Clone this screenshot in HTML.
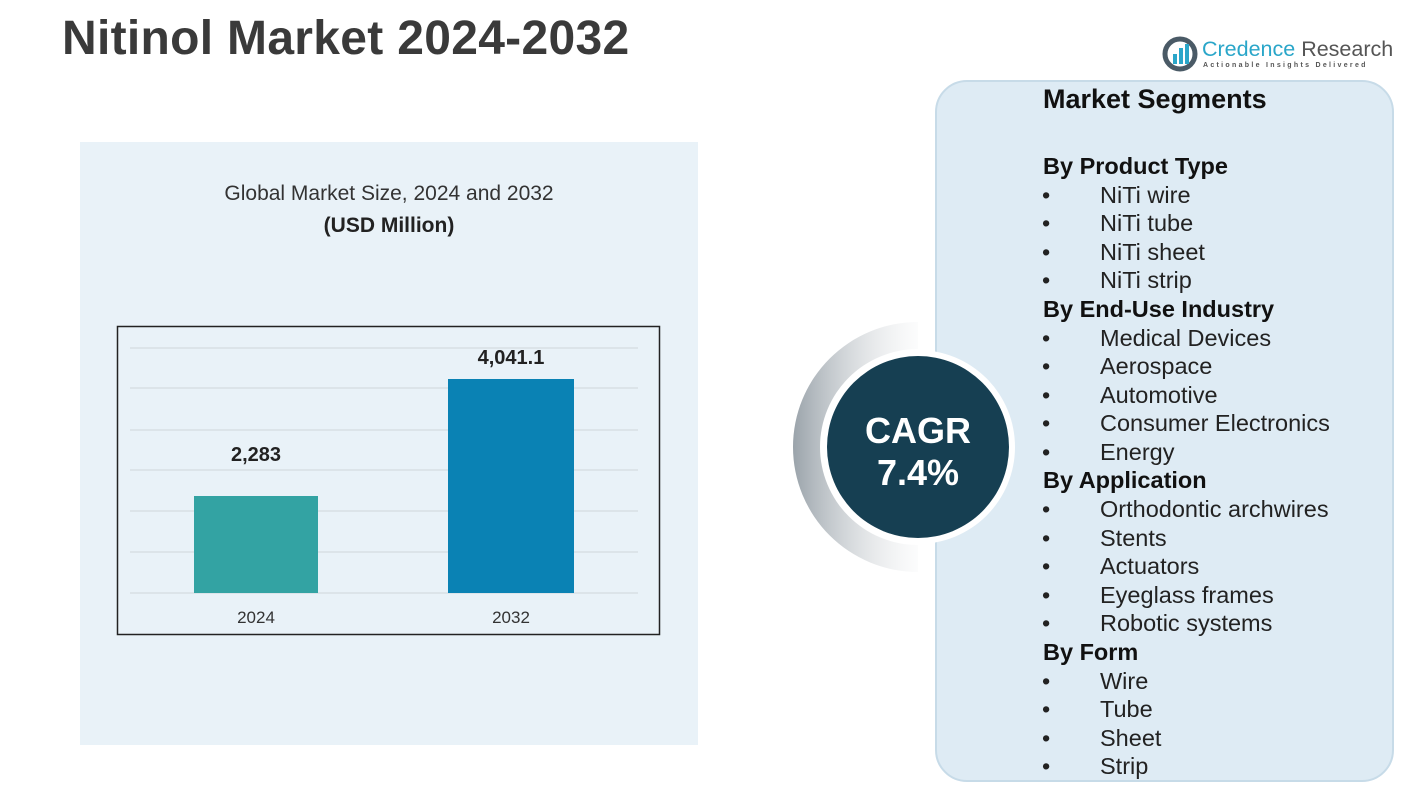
<!DOCTYPE html>
<html><head><style>
body{margin:0;width:1428px;height:804px;background:#fff;position:relative;overflow:hidden;font-family:"Liberation Sans",sans-serif}
.a{position:absolute}
#seg div{position:absolute;left:1043px;font-size:23.5px;color:#222;white-space:nowrap}
#seg .h{font-weight:bold;font-size:23.5px;color:#111}
#seg .i{left:1100px}
#seg .i::before{content:"•";position:absolute;left:-58px}
</style></head><body>
<div class="a" style="left:80px;top:142px;width:618px;height:603px;background:#e9f2f8"></div>
<div class="a" style="left:62px;top:11px;font-size:48px;font-weight:bold;color:#3a3a3a;letter-spacing:0.3px">Nitinol Market 2024-2032</div>
<svg class="a" style="left:1162px;top:36px" width="36" height="36"><circle cx="18" cy="18" r="15" fill="none" stroke="#4a5a66" stroke-width="5"/><rect x="11" y="18" width="4" height="10" fill="#2aa6c9"/><rect x="17" y="12" width="4" height="16" fill="#2aa6c9"/><rect x="23" y="8" width="4" height="20" fill="#2aa6c9"/></svg>
<div class="a" style="left:1202px;top:37px;font-size:21.5px;color:#2aa6c9">Credence <span style="color:#555">Research</span></div>
<div class="a" style="left:1203px;top:62px;font-size:7px;letter-spacing:2.3px;color:#555;font-weight:bold">Actionable Insights Delivered</div>
<div class="a" style="left:935px;top:80px;width:455px;height:698px;border-radius:32px;background:#deebf4;border:2px solid #c7dbe8"></div>
<div class="a" style="left:80px;top:182px;width:618px;text-align:center;font-size:21px;color:#333">Global Market Size, 2024 and 2032</div>
<div class="a" style="left:80px;top:214px;width:618px;text-align:center;font-size:21px;font-weight:bold;color:#222">(USD Million)</div>
<svg class="a" style="left:0;top:0" width="1428" height="804">
<rect x="117.5" y="326.5" width="542" height="308" fill="none" stroke="#222" stroke-width="1.5"/>
<g stroke="#d0d6da" stroke-width="1"><line x1="130" x2="638" y1="348" y2="348"/><line x1="130" x2="638" y1="388" y2="388"/><line x1="130" x2="638" y1="430" y2="430"/><line x1="130" x2="638" y1="470" y2="470"/><line x1="130" x2="638" y1="511" y2="511"/><line x1="130" x2="638" y1="552" y2="552"/><line x1="130" x2="638" y1="593" y2="593"/></g>
<rect x="194" y="496" width="124" height="97" fill="#33a3a3"/>
<rect x="448" y="379" width="126" height="214" fill="#0a82b4"/>
<text x="256" y="623" font-size="17" fill="#333" text-anchor="middle">2024</text>
<text x="511" y="623" font-size="17" fill="#333" text-anchor="middle">2032</text>
<text x="256" y="461" font-size="20" font-weight="bold" fill="#222" text-anchor="middle">2,283</text>
<text x="511" y="364" font-size="20" font-weight="bold" fill="#222" text-anchor="middle">4,041.1</text>
<defs><linearGradient id="g" x1="0" x2="1"><stop offset="0" stop-color="#9aa3aa"/><stop offset="1" stop-color="#f4f5f6" stop-opacity="0.3"/></linearGradient></defs>
<path d="M918 322 A125 125 0 0 0 918 572 L918 545 A98 98 0 0 1 918 349 Z" fill="url(#g)"/>
<circle cx="918" cy="447" r="97" fill="#fff"/>
<circle cx="918" cy="447" r="91" fill="#163f52"/>
<text x="918" y="443" font-size="36" font-weight="bold" fill="#fff" text-anchor="middle">CAGR</text>
<text x="918" y="485" font-size="36" font-weight="bold" fill="#fff" text-anchor="middle">7.4%</text>
</svg>
<div id="seg">
<div class="h" style="top:84px;font-size:27px">Market Segments</div>
<div class="h" style="top:153px">By Product Type</div>
<div class="i" style="top:182px">NiTi wire</div>
<div class="i" style="top:210px">NiTi tube</div>
<div class="i" style="top:239px">NiTi sheet</div>
<div class="i" style="top:267px">NiTi strip</div>
<div class="h" style="top:296px">By End-Use Industry</div>
<div class="i" style="top:325px">Medical Devices</div>
<div class="i" style="top:353px">Aerospace</div>
<div class="i" style="top:382px">Automotive</div>
<div class="i" style="top:410px">Consumer Electronics</div>
<div class="i" style="top:439px">Energy</div>
<div class="h" style="top:467px">By Application</div>
<div class="i" style="top:496px">Orthodontic archwires</div>
<div class="i" style="top:525px">Stents</div>
<div class="i" style="top:553px">Actuators</div>
<div class="i" style="top:582px">Eyeglass frames</div>
<div class="i" style="top:610px">Robotic systems</div>
<div class="h" style="top:639px">By Form</div>
<div class="i" style="top:668px">Wire</div>
<div class="i" style="top:696px">Tube</div>
<div class="i" style="top:725px">Sheet</div>
<div class="i" style="top:753px">Strip</div>
</div>
</body></html>
